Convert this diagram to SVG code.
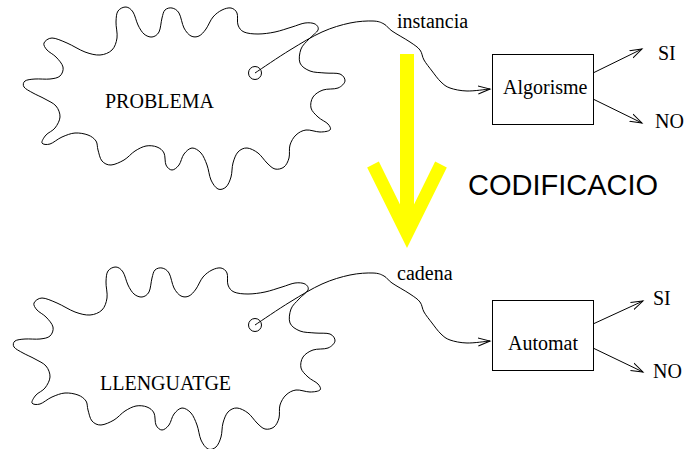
<svg xmlns="http://www.w3.org/2000/svg" xmlns:xlink="http://www.w3.org/1999/xlink" width="685" height="449" viewBox="0 0 685 449">
<style>
.ln{fill:none;stroke:#000;stroke-width:1}
.box{fill:#fff;stroke:#000;stroke-width:1}
.t{font-family:"Liberation Serif","Times New Roman",serif;font-size:20px;fill:#000}
.big{font-family:"Liberation Sans",Arial,sans-serif;font-size:29px;fill:#000}
.yel{fill:none;stroke:#ffff00}
</style>
<defs>
<marker id="ah" markerUnits="userSpaceOnUse" markerWidth="14" markerHeight="10" refX="12" refY="5" orient="auto" viewBox="0 0 14 10"><path d="M0,1 L12,5 L0,9" fill="none" stroke="#000" stroke-width="1"/></marker>
<path id="blob" d="M44,43 C44.8,41 48.2,38 52,38 S61.5,40.7 67,43 S79.5,50 85,52 S95.5,55.3 100,55 S109.2,52.8 112,50 S116.3,42.7 117,38 S115.8,26.5 116,22 S116.3,13.5 118,11 S123.5,6.8 126,7 S131,9 133,12 S136.2,21.3 138,25 S141.7,32 144,34 S149.5,37.3 152,37 S157.3,35.2 159,32 S161,21.7 162,18 S163.3,11.7 165,10 S169.7,7.5 172,8 S177,9.7 179,13 S182,24.2 184,28 S188.5,34.7 191,36 S196.5,37.2 199,36 S203.7,32.2 206,29 S210.3,20.2 213,17 S219,11.5 222,10 S228.5,7.5 231,8 S235.8,10.2 237,13 S236.8,21.8 238,25 S240.7,30.5 244,32 S252.8,34 258,34 S269.3,33.2 275,32 S287,28.5 292,27 S301.2,23.5 305,23 S312.8,22.8 315,24 S319,27.5 318,30 S311.8,35.8 309,39 S302.5,45 301,49 S298.5,59.3 300,63 S305.8,69.3 310,71 S320,72.5 325,73 S336.7,72.7 340,74 S345.3,78.7 345,81 S341.7,86.5 338,88 S327.2,88.5 323,90 S315,94 313,97 S310.2,104.7 311,108 S315.2,114.3 318,117 S326,121.8 328,124 S331.3,128.7 330,130 S324,132 320,132 S310,129.5 306,130 S298.7,132.5 296,135 S291.2,141.2 290,145 S290,154.3 289,158 S286.3,165.2 284,167 S277.8,169.7 275,169 S269.8,165.7 267,163 S261.3,155.5 258,153 S250.3,148.2 247,148 S240.3,149.5 238,152 S234.2,158.8 233,163 S232.2,173 231,177 S228.2,185 226,187 S220.5,190.2 218,189 S212.8,184 211,180 S208.7,169.5 207,165 S203.5,155.8 201,153 S194.8,147.8 192,148 S186.2,151.2 184,154 S181,162.3 179,165 S174.2,170 172,170 S167.3,167.8 166,165 S165.5,156 164,153 S160,148.2 157,147 S149.7,145.3 146,146 S138.7,148.7 135,151 S128,157.7 124,160 S114.7,164.8 111,165 S104.2,163.5 102,161 S99,153.3 98,150 S97.7,143.5 96,141 S91.5,136.3 88,135 S79.3,132.7 75,133 S66.2,135.2 62,137 S53.3,143 50,144 S42.7,144.5 42,143 S43.8,137.5 46,135 S52.7,131 55,128 S59.8,120.7 60,117 S58.5,109 56,106 S48.8,101.2 45,99 S36.5,95 33,93 S25.3,89 24,87 S23.2,82.3 25,81 S30.8,79.3 35,79 S45.8,79.5 50,79 S57.8,78 60,76 S63.7,70.2 63,67 S58.7,59.8 56,57 S49,52.3 47,50 S43.2,45 44,43 Z"/>
<path id="feed" d="M255,73 C260.8,69.2 278.8,56.8 290,50 S312,36.5 322,32 S341.5,24.8 350,23 S367.3,20.8 373,21 S380.8,22.3 384,24 S387.7,28 392,31 S405.3,38.8 410,42 S417.7,47 420,50 S422,56.5 424,60 S429.2,67.3 432,71 S438,79.2 441,82 S445.7,86.5 450,88 S460.3,90.8 467,91 S486.2,89.3 490,89"/>
</defs>

<g id="problema">
<use xlink:href="#blob" href="#blob" class="ln"/>
<circle cx="255" cy="73" r="6.5" class="ln"/>
<text x="105" y="108" class="t">PROBLEMA</text>
</g>

<g id="llenguatge">
<use xlink:href="#blob" href="#blob" class="ln" transform="translate(-10,260)"/>
<circle cx="255" cy="325" r="6.5" class="ln"/>
<text x="100" y="390" class="t">LLENGUATGE</text>
</g>

<g id="algorisme">
<rect x="492.5" y="54.5" width="101" height="70" class="box"/>
<text x="503" y="94" class="t">Algorisme</text>
</g>

<g id="automat">
<rect x="492.5" y="300.5" width="101" height="70" class="box"/>
<text x="508" y="350" class="t">Automat</text>
</g>

<g id="si1"><text x="658" y="60" class="t">SI</text></g>
<g id="no1"><text x="655" y="128" class="t">NO</text></g>
<g id="si2"><text x="653" y="305" class="t">SI</text></g>
<g id="no2"><text x="653" y="378" class="t">NO</text></g>

<g id="codificacio">
<line x1="407" y1="54" x2="407" y2="234" class="yel" stroke-width="14"/>
<polyline points="373,164.5 407,233.3 441,164.5" class="yel" stroke-width="13" stroke-linejoin="miter"/>
<text x="468" y="195" class="big">CODIFICACIO</text>
</g>

<g id="connectors">
<use xlink:href="#feed" href="#feed" class="ln" marker-end="url(#ah)"/>
<text x="397" y="28" class="t">instancia</text>
<use xlink:href="#feed" href="#feed" class="ln" transform="translate(0,252)" marker-end="url(#ah)"/>
<text x="397" y="280" class="t">cadena</text>
<path d="M593,73 L642,49" class="ln" marker-end="url(#ah)"/>
<path d="M593,99 L642,123" class="ln" marker-end="url(#ah)"/>
<path d="M593,324 L643,301" class="ln" marker-end="url(#ah)"/>
<path d="M593,348 L643,372" class="ln" marker-end="url(#ah)"/>
</g>
</svg>
